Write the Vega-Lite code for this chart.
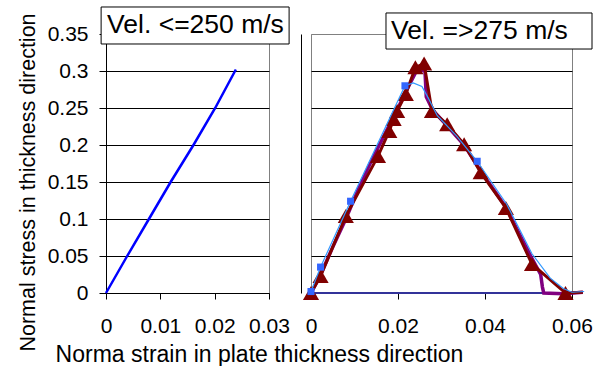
{
  "$schema": "https://vega.github.io/schema/vega-lite/v6.json",
  "background": "white",
  "padding": {"left": 16, "top": 5, "right": 5, "bottom": 5},
  "bounds": "flush",
  "spacing": 42,
  "config": {
    "font": "Liberation Sans",
    "view": {"stroke": "#808080", "strokeWidth": 1},
    "axis": {
      "labelFont": "Liberation Sans", "labelFontSize": 21, "labelColor": "#000", "labelOverlap": false, "labelFlush": false,
      "titleFont": "Liberation Sans", "titleColor": "#000", "titleFontWeight": "normal",
      "domainColor": "#000", "tickColor": "#000", "tickSize": 6, "gridColor": "#000", "gridWidth": 1.2
    }
  },
  "datasets": {
    "left": [
      {"x": 0, "y": 0}, {"x": 0.0039, "y": 0.05}, {"x": 0.0079, "y": 0.1}, {"x": 0.0119, "y": 0.15},
      {"x": 0.0161, "y": 0.2}, {"x": 0.0201, "y": 0.25}, {"x": 0.0239, "y": 0.302}
    ],
    "navy": [{"x": 0, "y": 0}, {"x": 0.0535, "y": 0}],
    "purple": [
      {"x": 0, "y": 0}, {"x": 0.002, "y": 0.022}, {"x": 0.005, "y": 0.062}, {"x": 0.008, "y": 0.1},
      {"x": 0.011, "y": 0.142}, {"x": 0.014, "y": 0.18}, {"x": 0.017, "y": 0.215}, {"x": 0.02, "y": 0.25},
      {"x": 0.0225, "y": 0.28}, {"x": 0.0245, "y": 0.303}, {"x": 0.0262, "y": 0.3}, {"x": 0.0265, "y": 0.265},
      {"x": 0.028, "y": 0.247}, {"x": 0.0313, "y": 0.226}, {"x": 0.0352, "y": 0.2}, {"x": 0.039, "y": 0.165},
      {"x": 0.0448, "y": 0.116}, {"x": 0.0505, "y": 0.05}, {"x": 0.0528, "y": 0.025}, {"x": 0.0532, "y": 0.008},
      {"x": 0.0535, "y": 0}, {"x": 0.058, "y": -0.001}, {"x": 0.0625, "y": 0.001}
    ],
    "redline": [
      {"x": 0, "y": 0}, {"x": 0.0022, "y": 0.023}, {"x": 0.008, "y": 0.104}, {"x": 0.0154, "y": 0.185},
      {"x": 0.018, "y": 0.219}, {"x": 0.019, "y": 0.235}, {"x": 0.0198, "y": 0.246}, {"x": 0.0218, "y": 0.269},
      {"x": 0.024, "y": 0.305}, {"x": 0.026, "y": 0.31}, {"x": 0.0278, "y": 0.246}, {"x": 0.0313, "y": 0.228},
      {"x": 0.0352, "y": 0.201}, {"x": 0.039, "y": 0.163}, {"x": 0.0448, "y": 0.115}, {"x": 0.0508, "y": 0.039},
      {"x": 0.0585, "y": 0}, {"x": 0.0625, "y": 0.001}
    ],
    "triangles": [
      {"x": 0, "y": 0}, {"x": 0.0022, "y": 0.023}, {"x": 0.008, "y": 0.104}, {"x": 0.0154, "y": 0.185},
      {"x": 0.018, "y": 0.219}, {"x": 0.019, "y": 0.235}, {"x": 0.0198, "y": 0.246}, {"x": 0.0218, "y": 0.269},
      {"x": 0.024, "y": 0.305}, {"x": 0.026, "y": 0.31}, {"x": 0.0278, "y": 0.246}, {"x": 0.0313, "y": 0.228},
      {"x": 0.0352, "y": 0.201}, {"x": 0.039, "y": 0.163}, {"x": 0.0448, "y": 0.115}, {"x": 0.0508, "y": 0.039},
      {"x": 0.0585, "y": 0}
    ],
    "blueline": [
      {"x": 0, "y": 0.002}, {"x": 0.0022, "y": 0.035}, {"x": 0.0091, "y": 0.124}, {"x": 0.0216, "y": 0.28},
      {"x": 0.0235, "y": 0.284}, {"x": 0.0255, "y": 0.279}, {"x": 0.027, "y": 0.263}, {"x": 0.029, "y": 0.24},
      {"x": 0.0335, "y": 0.212}, {"x": 0.0382, "y": 0.178}, {"x": 0.045, "y": 0.12}, {"x": 0.0508, "y": 0.053},
      {"x": 0.055, "y": 0.02}, {"x": 0.058, "y": 0.006}, {"x": 0.06, "y": 0.001}, {"x": 0.0628, "y": 0.002}
    ],
    "squares": [
      {"x": 0, "y": 0.002}, {"x": 0.0022, "y": 0.035}, {"x": 0.0091, "y": 0.124}, {"x": 0.0216, "y": 0.28},
      {"x": 0.0382, "y": 0.178}
    ],
    "legL": [{"label": "Vel. <=250 m/s"}],
    "legR": [{"label": "Vel. =>275 m/s"}]
  },
  "hconcat": [
    {
      "width": 163,
      "height": 259,
      "layer": [
        {
          "data": {"name": "left"},
          "mark": {"type": "line", "color": "#0000FF", "strokeWidth": 2.5},
          "encoding": {
            "x": {"field": "x", "type": "quantitative",
              "scale": {"domain": [0, 0.03], "nice": false, "zero": false},
              "axis": {"values": [0, 0.01, 0.02, 0.03], "format": "~g", "grid": false, "labelPadding": 16,
                "title": "Norma strain in plate thickness direction", "titleFontSize": 23,
                "titleX": 153, "titleY": 68, "titleAlign": "center", "titleBaseline": "alphabetic"}},
            "y": {"field": "y", "type": "quantitative",
              "scale": {"domain": [0, 0.35], "nice": false, "zero": false},
              "axis": {"values": [0, 0.05, 0.1, 0.15, 0.2, 0.25, 0.3, 0.35], "format": "~g", "labelPadding": 11, "tickSize": 7,
                "gridColor": {"condition": {"test": "datum.value >= 0.35", "value": "#808080"}, "value": "#000"},
                "title": "Normal stress in thickness direction", "titleFontSize": 21.5,
                "titleX": -72, "titleY": 148, "titleAlign": "center", "titleBaseline": "alphabetic"}}
          }
        },
        {
          "data": {"name": "legL"},
          "mark": {"type": "rect", "fill": "white", "stroke": "#000", "strokeWidth": 1},
          "encoding": {
            "x": {"datum": -0.0009, "type": "quantitative",
              "scale": {"domain": [0, 0.03], "nice": false, "zero": false},
              "axis": {"values": [0, 0.01, 0.02, 0.03], "format": "~g", "grid": false, "labelPadding": 16,
                "title": "Norma strain in plate thickness direction", "titleFontSize": 23,
                "titleX": 153, "titleY": 68, "titleAlign": "center", "titleBaseline": "alphabetic"}},
            "x2": {"datum": 0.0337},
            "y": {"datum": 0.3365, "type": "quantitative",
              "scale": {"domain": [0, 0.35], "nice": false, "zero": false},
              "axis": {"values": [0, 0.05, 0.1, 0.15, 0.2, 0.25, 0.3, 0.35], "format": "~g", "labelPadding": 11, "tickSize": 7,
                "gridColor": {"condition": {"test": "datum.value >= 0.35", "value": "#808080"}, "value": "#000"},
                "title": "Normal stress in thickness direction", "titleFontSize": 21.5,
                "titleX": -72, "titleY": 148, "titleAlign": "center", "titleBaseline": "alphabetic"}},
            "y2": {"datum": 0.3865}
          }
        },
        {
          "data": {"name": "legL"},
          "mark": {"type": "text", "align": "left", "baseline": "middle", "fontSize": 26.5, "font": "Liberation Sans", "color": "#000"},
          "encoding": {
            "x": {"datum": 0.0002, "type": "quantitative",
              "scale": {"domain": [0, 0.03], "nice": false, "zero": false},
              "axis": {"values": [0, 0.01, 0.02, 0.03], "format": "~g", "grid": false, "labelPadding": 16,
                "title": "Norma strain in plate thickness direction", "titleFontSize": 23,
                "titleX": 153, "titleY": 68, "titleAlign": "center", "titleBaseline": "alphabetic"}},
            "y": {"datum": 0.3615, "type": "quantitative",
              "scale": {"domain": [0, 0.35], "nice": false, "zero": false},
              "axis": {"values": [0, 0.05, 0.1, 0.15, 0.2, 0.25, 0.3, 0.35], "format": "~g", "labelPadding": 11, "tickSize": 7,
                "gridColor": {"condition": {"test": "datum.value >= 0.35", "value": "#808080"}, "value": "#000"},
                "title": "Normal stress in thickness direction", "titleFontSize": 21.5,
                "titleX": -72, "titleY": 148, "titleAlign": "center", "titleBaseline": "alphabetic"}},
            "text": {"field": "label", "type": "nominal"}
          }
        }
      ]
    },
    {
      "width": 261,
      "height": 259,
      "layer": [
        {"data": {"name": "navy"}, "mark": {"type": "line", "color": "#333399", "strokeWidth": 2},
         "encoding": {
           "x": {"field": "x", "type": "quantitative", "scale": {"domain": [0, 0.06], "nice": false, "zero": false},
             "axis": {"values": [0, 0.02, 0.04, 0.06], "format": "~g", "grid": false, "labelPadding": 16, "title": null}},
           "y": {"field": "y", "type": "quantitative", "scale": {"domain": [0, 0.35], "nice": false, "zero": false},
             "axis": {"values": [0, 0.05, 0.1, 0.15, 0.2, 0.25, 0.3, 0.35], "labels": false, "ticks": false, "offset": 10,
               "gridColor": {"condition": {"test": "datum.value >= 0.35", "value": "#808080"}, "value": "#000"}, "title": null}}
         }},
        {"data": {"name": "purple"}, "mark": {"type": "line", "color": "#800080", "strokeWidth": 3.5},
         "encoding": {
           "x": {"field": "x", "type": "quantitative", "scale": {"domain": [0, 0.06], "nice": false, "zero": false},
             "axis": {"values": [0, 0.02, 0.04, 0.06], "format": "~g", "grid": false, "labelPadding": 16, "title": null}},
           "y": {"field": "y", "type": "quantitative", "scale": {"domain": [0, 0.35], "nice": false, "zero": false},
             "axis": {"values": [0, 0.05, 0.1, 0.15, 0.2, 0.25, 0.3, 0.35], "labels": false, "ticks": false, "offset": 10,
               "gridColor": {"condition": {"test": "datum.value >= 0.35", "value": "#808080"}, "value": "#000"}, "title": null}}
         }},
        {"data": {"name": "redline"}, "mark": {"type": "line", "color": "#800000", "strokeWidth": 3},
         "encoding": {
           "x": {"field": "x", "type": "quantitative", "scale": {"domain": [0, 0.06], "nice": false, "zero": false},
             "axis": {"values": [0, 0.02, 0.04, 0.06], "format": "~g", "grid": false, "labelPadding": 16, "title": null}},
           "y": {"field": "y", "type": "quantitative", "scale": {"domain": [0, 0.35], "nice": false, "zero": false},
             "axis": {"values": [0, 0.05, 0.1, 0.15, 0.2, 0.25, 0.3, 0.35], "labels": false, "ticks": false, "offset": 10,
               "gridColor": {"condition": {"test": "datum.value >= 0.35", "value": "#808080"}, "value": "#000"}, "title": null}}
         }},
        {"data": {"name": "triangles"}, "mark": {"type": "point", "shape": "triangle-up", "filled": true, "color": "#800000", "size": 260, "opacity": 1},
         "encoding": {
           "x": {"field": "x", "type": "quantitative", "scale": {"domain": [0, 0.06], "nice": false, "zero": false},
             "axis": {"values": [0, 0.02, 0.04, 0.06], "format": "~g", "grid": false, "labelPadding": 16, "title": null}},
           "y": {"field": "y", "type": "quantitative", "scale": {"domain": [0, 0.35], "nice": false, "zero": false},
             "axis": {"values": [0, 0.05, 0.1, 0.15, 0.2, 0.25, 0.3, 0.35], "labels": false, "ticks": false, "offset": 10,
               "gridColor": {"condition": {"test": "datum.value >= 0.35", "value": "#808080"}, "value": "#000"}, "title": null}}
         }},
        {"data": {"name": "blueline"}, "mark": {"type": "line", "color": "#3399FF", "strokeWidth": 1.2},
         "encoding": {
           "x": {"field": "x", "type": "quantitative", "scale": {"domain": [0, 0.06], "nice": false, "zero": false},
             "axis": {"values": [0, 0.02, 0.04, 0.06], "format": "~g", "grid": false, "labelPadding": 16, "title": null}},
           "y": {"field": "y", "type": "quantitative", "scale": {"domain": [0, 0.35], "nice": false, "zero": false},
             "axis": {"values": [0, 0.05, 0.1, 0.15, 0.2, 0.25, 0.3, 0.35], "labels": false, "ticks": false, "offset": 10,
               "gridColor": {"condition": {"test": "datum.value >= 0.35", "value": "#808080"}, "value": "#000"}, "title": null}}
         }},
        {"data": {"name": "squares"}, "mark": {"type": "point", "shape": "square", "filled": true, "color": "#3366FF", "size": 50, "opacity": 1},
         "encoding": {
           "x": {"field": "x", "type": "quantitative", "scale": {"domain": [0, 0.06], "nice": false, "zero": false},
             "axis": {"values": [0, 0.02, 0.04, 0.06], "format": "~g", "grid": false, "labelPadding": 16, "title": null}},
           "y": {"field": "y", "type": "quantitative", "scale": {"domain": [0, 0.35], "nice": false, "zero": false},
             "axis": {"values": [0, 0.05, 0.1, 0.15, 0.2, 0.25, 0.3, 0.35], "labels": false, "ticks": false, "offset": 10,
               "gridColor": {"condition": {"test": "datum.value >= 0.35", "value": "#808080"}, "value": "#000"}, "title": null}}
         }},
        {"data": {"name": "legR"}, "mark": {"type": "rect", "fill": "white", "stroke": "#000", "strokeWidth": 1},
         "encoding": {
           "x": {"datum": 0.01724, "type": "quantitative", "scale": {"domain": [0, 0.06], "nice": false, "zero": false},
             "axis": {"values": [0, 0.02, 0.04, 0.06], "format": "~g", "grid": false, "labelPadding": 16, "title": null}},
           "x2": {"datum": 0.0646},
           "y": {"datum": 0.3297, "type": "quantitative", "scale": {"domain": [0, 0.35], "nice": false, "zero": false},
             "axis": {"values": [0, 0.05, 0.1, 0.15, 0.2, 0.25, 0.3, 0.35], "labels": false, "ticks": false, "offset": 10,
               "gridColor": {"condition": {"test": "datum.value >= 0.35", "value": "#808080"}, "value": "#000"}, "title": null}},
           "y2": {"datum": 0.3784}
         }},
        {"data": {"name": "legR"}, "mark": {"type": "text", "align": "left", "baseline": "middle", "fontSize": 26.5, "font": "Liberation Sans", "color": "#000"},
         "encoding": {
           "x": {"datum": 0.0184, "type": "quantitative", "scale": {"domain": [0, 0.06], "nice": false, "zero": false},
             "axis": {"values": [0, 0.02, 0.04, 0.06], "format": "~g", "grid": false, "labelPadding": 16, "title": null}},
           "y": {"datum": 0.354, "type": "quantitative", "scale": {"domain": [0, 0.35], "nice": false, "zero": false},
             "axis": {"values": [0, 0.05, 0.1, 0.15, 0.2, 0.25, 0.3, 0.35], "labels": false, "ticks": false, "offset": 10,
               "gridColor": {"condition": {"test": "datum.value >= 0.35", "value": "#808080"}, "value": "#000"}, "title": null}},
           "text": {"field": "label", "type": "nominal"}
         }}
      ]
    }
  ]
}
